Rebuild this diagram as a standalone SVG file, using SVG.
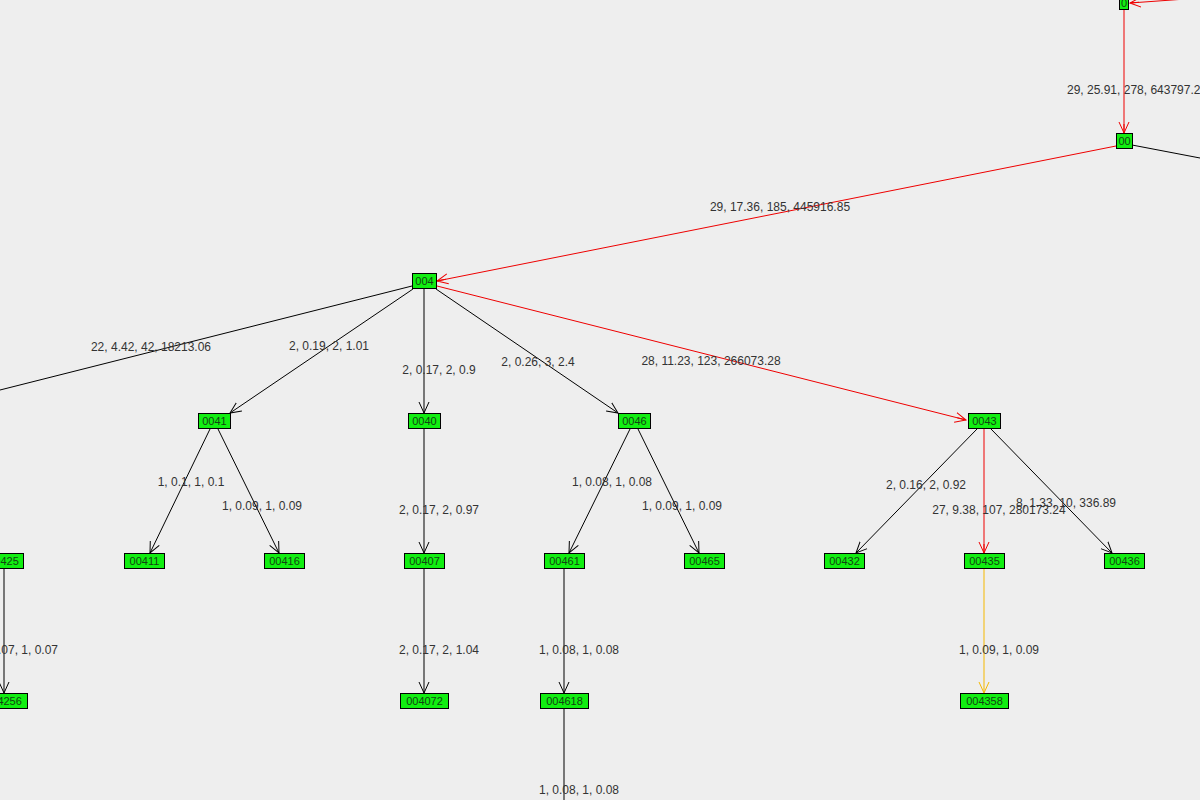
<svg xmlns="http://www.w3.org/2000/svg" width="1200" height="800" viewBox="0 0 1200 800">
<defs>
<marker id="ab" viewBox="0 0 12 12" refX="11" refY="6" markerWidth="12" markerHeight="12" markerUnits="userSpaceOnUse" orient="auto"><path d="M0,1 L11,6 L0,11" fill="none" stroke="#000" stroke-width="1"/></marker>
<marker id="ar" viewBox="0 0 12 12" refX="11" refY="6" markerWidth="12" markerHeight="12" markerUnits="userSpaceOnUse" orient="auto"><path d="M0,1 L11,6 L0,11 M2,6 L11,6" fill="none" stroke="#ee0000" stroke-width="1"/></marker>
<marker id="ay" viewBox="0 0 12 12" refX="11" refY="6" markerWidth="12" markerHeight="12" markerUnits="userSpaceOnUse" orient="auto"><path d="M0,1 L11,6 L0,11" fill="none" stroke="#f5b800" stroke-width="1"/></marker>
</defs>
<style>
.e{stroke:#000;stroke-width:1;fill:none}
.b{marker-end:url(#ab)}
.r{stroke:#ee0000;marker-end:url(#ar)}
.y{stroke:#f5b800;marker-end:url(#ay)}
.n rect{fill:#11ee11;stroke:#000;stroke-width:1}
.n text{font-family:"Liberation Sans",Arial,sans-serif;font-size:11px;fill:#114411;text-anchor:middle}
.l{font-family:"Liberation Sans",Arial,sans-serif;font-size:12px;fill:#333;text-anchor:middle}
</style>
<rect width="1200" height="800" fill="#eeeeee"/>
<g id="connectors">
<line class="e r" x1="1200" y1="-2" x2="1130" y2="3"/>
<line class="e r" x1="1124" y1="10" x2="1124" y2="133"/>
<line class="e" x1="1132" y1="145" x2="1200" y2="158"/>
<line class="e r" x1="1116" y1="146" x2="437" y2="281"/>
<line class="e" x1="412" y1="286" x2="0" y2="390"/>
<line class="e b" x1="413" y1="289" x2="230" y2="413"/>
<line class="e b" x1="424" y1="289" x2="424" y2="413"/>
<line class="e b" x1="436" y1="289" x2="618" y2="413"/>
<line class="e r" x1="437" y1="286" x2="966" y2="420"/>
<line class="e b" x1="210" y1="429" x2="150" y2="553"/>
<line class="e b" x1="218" y1="429" x2="279" y2="553"/>
<line class="e b" x1="424" y1="429" x2="424" y2="553"/>
<line class="e b" x1="630" y1="429" x2="569" y2="553"/>
<line class="e b" x1="638" y1="429" x2="699" y2="553"/>
<line class="e b" x1="977" y1="429" x2="856" y2="553"/>
<line class="e r" x1="984" y1="429" x2="984" y2="553"/>
<line class="e b" x1="991" y1="429" x2="1112" y2="553"/>
<line class="e b" x1="4" y1="569" x2="4" y2="693"/>
<line class="e b" x1="424" y1="569" x2="424" y2="693"/>
<line class="e b" x1="564" y1="569" x2="564" y2="693"/>
<line class="e y" x1="984" y1="569" x2="984" y2="693"/>
<line class="e" x1="564" y1="709" x2="564" y2="800"/>
<text class="l" x="1067" y="94" style="text-anchor:start">29, 25.91, 278, 643797.27</text>
<text class="l" x="780" y="211">29, 17.36, 185, 445916.85</text>
<text class="l" x="151" y="351">22, 4.42, 42, 18213.06</text>
<text class="l" x="329" y="350">2, 0.19, 2, 1.01</text>
<text class="l" x="439" y="374">2, 0.17, 2, 0.9</text>
<text class="l" x="538" y="366">2, 0.26, 3, 2.4</text>
<text class="l" x="711" y="365">28, 11.23, 123, 266073.28</text>
<text class="l" x="191" y="486">1, 0.1, 1, 0.1</text>
<text class="l" x="262" y="510">1, 0.09, 1, 0.09</text>
<text class="l" x="439" y="514">2, 0.17, 2, 0.97</text>
<text class="l" x="612" y="486">1, 0.08, 1, 0.08</text>
<text class="l" x="682" y="510">1, 0.09, 1, 0.09</text>
<text class="l" x="926" y="489">2, 0.16, 2, 0.92</text>
<text class="l" x="999" y="514">27, 9.38, 107, 280173.24</text>
<text class="l" x="1066" y="507">8, 1.33, 10, 336.89</text>
<text class="l" x="58" y="654" style="text-anchor:end">1, 0.07, 1, 0.07</text>
<text class="l" x="439" y="654">2, 0.17, 2, 1.04</text>
<text class="l" x="579" y="654">1, 0.08, 1, 0.08</text>
<text class="l" x="999" y="654">1, 0.09, 1, 0.09</text>
<text class="l" x="579" y="794">1, 0.08, 1, 0.08</text>
</g>
<g id="n0" class="n"><rect x="1119.5" y="-4.5" width="9" height="14"/><text x="1124" y="7">0</text></g>
<g id="n00" class="n"><rect x="1116.5" y="133.5" width="16" height="15"/><text x="1124.5" y="145">00</text></g>
<g id="n004" class="n"><rect x="412.5" y="273.5" width="24" height="15"/><text x="424.5" y="285">004</text></g>
<g id="n0041" class="n"><rect x="198.5" y="413.5" width="32" height="15"/><text x="214.5" y="425">0041</text></g>
<g id="n0040" class="n"><rect x="408.5" y="413.5" width="32" height="15"/><text x="424.5" y="425">0040</text></g>
<g id="n0046" class="n"><rect x="618.5" y="413.5" width="32" height="15"/><text x="634.5" y="425">0046</text></g>
<g id="n0043" class="n"><rect x="968.5" y="413.5" width="32" height="15"/><text x="984.5" y="425">0043</text></g>
<g id="n00425" class="n"><rect x="-16.5" y="553.5" width="40" height="15"/><text x="3.5" y="565">00425</text></g>
<g id="n00411" class="n"><rect x="124.5" y="553.5" width="40" height="15"/><text x="144.5" y="565">00411</text></g>
<g id="n00416" class="n"><rect x="264.5" y="553.5" width="40" height="15"/><text x="284.5" y="565">00416</text></g>
<g id="n00407" class="n"><rect x="404.5" y="553.5" width="40" height="15"/><text x="424.5" y="565">00407</text></g>
<g id="n00461" class="n"><rect x="544.5" y="553.5" width="40" height="15"/><text x="564.5" y="565">00461</text></g>
<g id="n00465" class="n"><rect x="684.5" y="553.5" width="40" height="15"/><text x="704.5" y="565">00465</text></g>
<g id="n00432" class="n"><rect x="824.5" y="553.5" width="40" height="15"/><text x="844.5" y="565">00432</text></g>
<g id="n00435" class="n"><rect x="964.5" y="553.5" width="40" height="15"/><text x="984.5" y="565">00435</text></g>
<g id="n00436" class="n"><rect x="1104.5" y="553.5" width="40" height="15"/><text x="1124.5" y="565">00436</text></g>
<g id="n004256" class="n"><rect x="-20.5" y="693.5" width="48" height="15"/><text x="3.5" y="705">004256</text></g>
<g id="n004072" class="n"><rect x="400.5" y="693.5" width="48" height="15"/><text x="424.5" y="705">004072</text></g>
<g id="n004618" class="n"><rect x="540.5" y="693.5" width="48" height="15"/><text x="564.5" y="705">004618</text></g>
<g id="n004358" class="n"><rect x="960.5" y="693.5" width="48" height="15"/><text x="984.5" y="705">004358</text></g>
</svg>
